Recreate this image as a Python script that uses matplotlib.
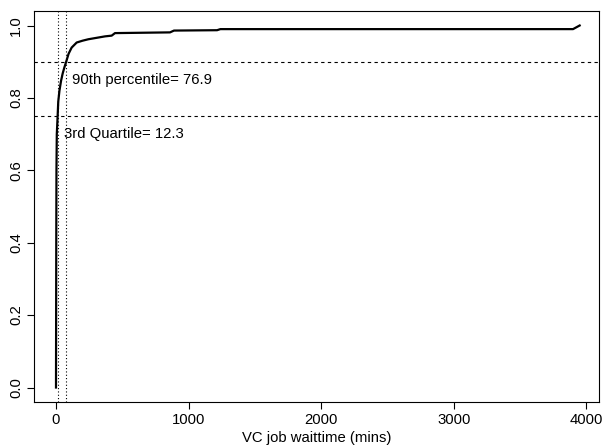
import matplotlib
matplotlib.use("Agg")
from matplotlib import pyplot as plt

# ECDF of VC job wait time
wait_mins = [0, 1, 2, 3.5, 6, 12.3, 17, 26, 38, 50, 63, 76.9, 95, 118, 156,
             200, 244, 370, 420, 445, 860, 890, 1215, 1240, 3900, 3950]
cdf = [0.0, 0.2, 0.4, 0.6, 0.7, 0.75, 0.79, 0.82, 0.847, 0.867, 0.884, 0.9,
       0.922, 0.939, 0.953, 0.958, 0.962, 0.970, 0.972, 0.979, 0.981, 0.986,
       0.987, 0.990, 0.990, 1.0]

q3 = 12.3
p90 = 76.9
x_ticks = [0, 1000, 2000, 3000, 4000]
y_ticks = [0.0, 0.2, 0.4, 0.6, 0.8, 1.0]

plt.rcParams['font.family'] = ['Liberation Sans', 'DejaVu Sans']
fs = 10.7

fig = plt.figure(figsize=(6.03, 4.48), dpi=100)
ax = fig.add_axes([0.0564, 0.1027, 0.937, 0.8727])

ax.plot(wait_mins, cdf, color='black', lw=1.6)

ax.axhline(0.75, color='black', lw=0.8, ls=(0, (3, 3)))
ax.axhline(0.9, color='black', lw=0.8, ls=(0, (3, 3)))
ax.axvline(q3, color='black', lw=0.8, ls=(0, (1, 2)))
ax.axvline(p90, color='black', lw=0.8, ls=(0, (1, 2)))

ax.annotate('90th percentile= %.1f' % p90, (p90, 0.85), xytext=(4.5, 0),
            textcoords='offset points', ha='left', va='center', fontsize=fs)
ax.annotate('3rd Quartile= %.1f' % q3, (q3, 0.7), xytext=(4.5, 0),
            textcoords='offset points', ha='left', va='center', fontsize=fs)

xmin, xmax = 0, 3950
span = xmax - xmin
ax.set_xlim(xmin - 0.042 * span, xmax + 0.037 * span)
ax.set_ylim(-0.04, 1.04)

ax.set_xticks(x_ticks)
ax.set_yticks(y_ticks)
ax.set_xticklabels([str(t) for t in x_ticks], fontsize=fs)
ax.set_yticklabels(['%.1f' % t for t in y_ticks], fontsize=fs, rotation=90, va='center')
ax.tick_params(direction='out', length=5, width=0.8, pad=3)

for s in ax.spines.values():
    s.set_linewidth(0.8)

ax.set_xlabel('VC job waittime (mins)', fontsize=fs, labelpad=3)

fig.savefig('out.png', dpi=100)
